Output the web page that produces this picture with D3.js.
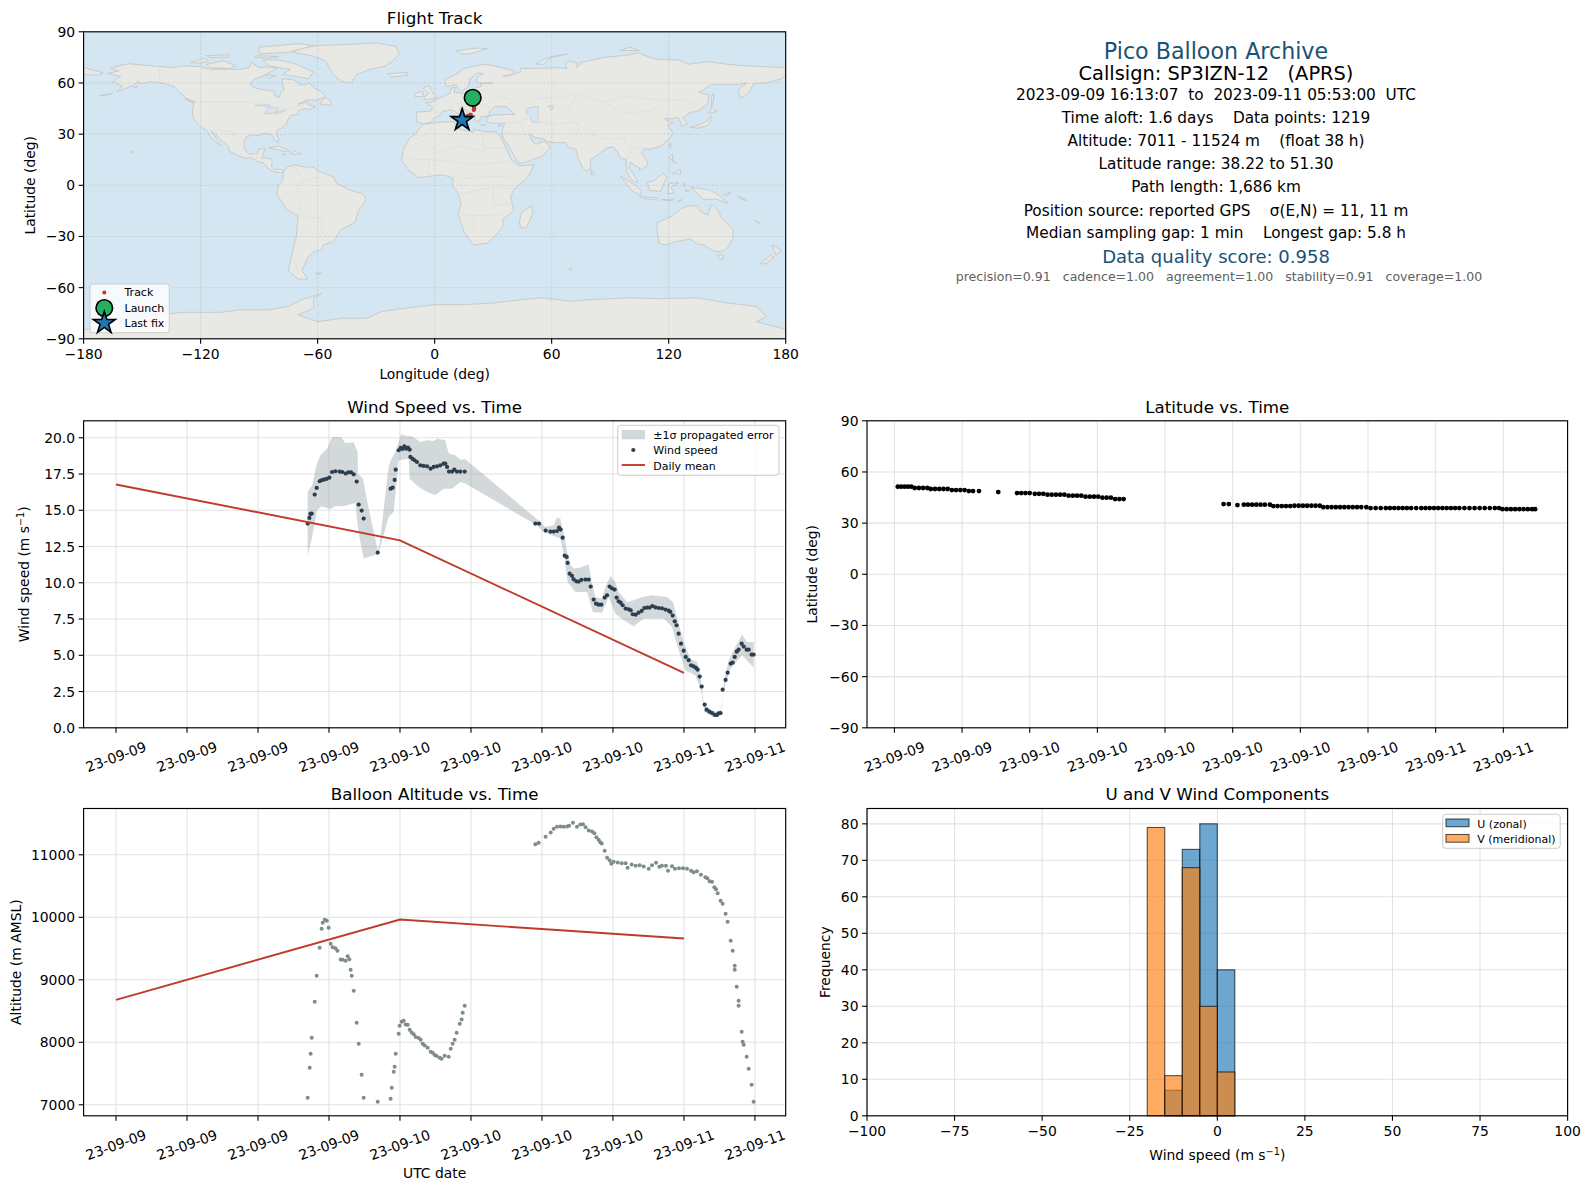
<!DOCTYPE html>
<html><head><meta charset="utf-8">
<script src="https://cdn.jsdelivr.net/npm/d3@7/dist/d3.min.js"></script>
<style>html,body{margin:0;padding:0;background:#fff}svg{display:block}text{font-family:"DejaVu Sans",sans-serif;fill:#000}</style>
</head><body><svg id="c" width="1589" height="1189"></svg>
<script>
// ---------- data (hours are counted from 2023-09-09 00:00 UTC) ----------
const timeTickHours=[0,6,12,18,24,30,36,42,48,54];
const timeTickLabels=["23-09-09","23-09-09","23-09-09","23-09-09","23-09-10","23-09-10","23-09-10","23-09-10","23-09-11","23-09-11"];
const latTickHours=[16,20,24,28,32,36,40,44,48,52];
const latTickLabels=["23-09-09","23-09-09","23-09-10","23-09-10","23-09-10","23-09-10","23-09-10","23-09-10","23-09-11","23-09-11"];
const dailyHours=[0,24,48];
const dailyWind=[16.78,12.93,3.78];
const dailyAlt=[8680,9965,9660];
const windObs=[[16.20,14.08],[16.34,14.47],[16.43,14.75],[16.54,14.77],[16.79,16.08],[16.96,16.54],[17.21,17.00],[17.35,17.07],[17.55,17.11],[17.78,17.16],[18.03,17.25],[18.26,17.64],[18.54,17.69],[18.90,17.67],[19.13,17.64],[19.41,17.53],[19.64,17.62],[19.86,17.62],[20.09,17.48],[20.34,16.98],[20.51,15.39],[20.76,14.98],[20.93,14.43],[22.12,12.08],[23.21,16.49],[23.38,16.56],[23.55,17.09],[23.64,17.80],[23.89,19.14],[24.06,19.30],[24.23,19.23],[24.37,19.41],[24.54,19.25],[24.68,19.32],[24.82,19.18],[24.88,18.68],[25.07,18.54],[25.24,18.45],[25.44,18.33],[25.72,18.10],[26.00,18.06],[26.29,18.03],[26.59,17.87],[26.85,17.99],[27.13,18.03],[27.41,18.10],[27.69,18.22],[27.83,18.22],[27.98,17.99],[28.14,17.67],[28.40,17.67],[28.59,17.80],[28.82,17.67],[29.10,17.67],[29.47,17.67],
[35.44,14.08],[35.75,14.08],[36.31,13.60],[36.71,13.53],[36.99,13.53],[37.27,13.57],[37.44,13.80],[37.58,13.67],[37.75,13.11],[37.92,11.87],[38.09,11.78],[38.17,11.37],[38.34,10.63],[38.54,10.47],[38.68,10.24],[38.91,10.10],[39.10,10.08],[39.33,10.20],[39.67,10.22],[39.95,10.22],[40.12,9.74],[40.37,8.84],[40.57,8.56],[40.79,8.49],[41.02,8.49],[41.30,8.98],[41.50,9.14],[41.72,9.74],[41.92,9.62],[42.14,9.53],[42.31,8.98],[42.48,8.72],[42.65,8.63],[42.82,8.45],[43.07,8.22],[43.33,8.17],[43.50,8.10],[43.67,7.83],[43.92,7.80],[44.17,7.94],[44.43,8.06],[44.65,8.26],[44.88,8.29],[45.10,8.29],[45.33,8.40],[45.58,8.31],[45.86,8.26],[46.14,8.24],[46.43,8.15],[46.71,8.08],[46.85,7.99],[47.05,7.74],[47.22,7.34],[47.38,7.07],[47.55,6.49],[47.75,5.80],[47.98,5.32],[48.15,4.89],[48.40,4.66],[48.60,4.31],[48.82,4.24],[49.02,4.13],[49.16,4.01],[49.33,3.53],[49.50,2.84],[49.75,1.60],[49.92,1.25],[50.15,1.11],[50.37,1.02],[50.60,0.89],[50.79,0.89],[50.93,1.00],[51.10,1.02],[51.27,2.63],[51.52,3.30],[51.69,3.80],[51.95,4.43],[52.12,4.49],[52.29,4.89],[52.46,5.25],[52.62,5.39],[52.88,5.80],[53.05,5.60],[53.30,5.39],[53.47,5.39],[53.72,5.05],[53.89,5.05]];
const windUpper=[[16.20,16.31],[16.59,16.72],[16.93,18.10],[17.27,18.79],[17.83,19.25],[18.26,20.06],[19.04,20.06],[19.38,19.64],[20.09,19.67],[20.43,19.02],[20.43,17.53],[20.88,17.18],[21.21,15.69],[22.12,12.24],[22.28,12.70],[23.04,17.99],[23.24,18.49],[23.61,19.02],[24.09,20.24],[24.59,20.10],[25.02,20.10],[25.72,19.71],[26.29,19.83],[26.85,19.78],[27.13,19.94],[27.83,19.83],[28.12,18.91],[28.68,18.79],[29.10,18.49],[29.52,18.52],[35.86,14.20],[36.28,13.85],[36.99,13.97],[37.27,14.49],[37.55,14.43],[37.83,13.39],[38.34,11.32],[38.68,10.98],[39.24,11.05],[39.95,11.28],[40.17,10.17],[40.51,9.02],[41.07,8.91],[41.36,9.71],[41.78,10.47],[42.20,10.06],[42.48,9.37],[43.19,8.68],[43.75,8.79],[44.45,9.02],[45.30,9.14],[46.57,9.02],[47.07,8.68],[47.55,7.18],[48.12,5.57],[48.54,4.77],[49.10,4.54],[49.38,3.74],[49.67,1.67],[50.23,1.25],[50.79,1.09],[51.21,1.32],[51.36,3.05],[51.78,4.66],[52.34,5.57],[52.91,6.43],[53.33,5.92],[53.89,5.92]];
const windLower=[[16.20,11.85],[16.57,13.16],[16.99,15.00],[17.41,15.28],[18.12,15.07],[18.54,15.28],[19.24,15.28],[20.23,15.51],[20.51,13.39],[20.93,11.67],[22.12,11.97],[22.34,12.47],[23.04,14.54],[23.47,14.89],[23.75,17.30],[23.89,18.45],[24.74,18.56],[24.82,17.18],[25.58,16.61],[26.29,16.26],[26.99,16.03],[27.69,16.49],[28.40,16.49],[29.10,16.95],[29.52,16.84],[35.58,13.97],[36.14,13.51],[37.55,13.05],[37.89,11.78],[38.17,10.06],[38.82,9.37],[39.81,9.37],[40.31,7.99],[41.07,7.94],[41.64,9.02],[42.20,7.87],[42.91,7.41],[43.75,7.00],[44.60,7.53],[46.29,7.53],[46.99,6.95],[47.55,5.34],[48.12,3.97],[48.96,3.62],[49.44,2.59],[49.72,1.09],[50.51,0.75],[51.07,0.86],[51.36,2.59],[51.92,4.08],[52.91,5.00],[53.89,4.15]];
const altObs=[[16.20,7112],[16.37,7592],[16.45,7816],[16.54,8072],[16.79,8648],[16.96,9064],[17.21,9512],[17.38,9816],[17.47,9912],[17.64,9960],[17.81,9944],[17.97,9832],[18.14,9576],[18.31,9522],[18.54,9506],[18.71,9464],[18.99,9325],[19.16,9320],[19.41,9304],[19.58,9378],[19.72,9330],[19.83,9160],[19.92,9064],[20.09,8824],[20.34,8312],[20.51,7976],[20.76,7480],[20.93,7112],[22.12,7048],[23.21,7096],[23.30,7272],[23.47,7528],[23.55,7608],[23.64,7816],[23.89,8136],[23.97,8264],[24.14,8328],[24.31,8344],[24.48,8285],[24.65,8280],[24.82,8200],[24.99,8157],[25.16,8130],[25.33,8083],[25.58,8067],[25.75,8040],[25.92,7976],[26.09,7949],[26.34,7912],[26.59,7848],[26.76,7832],[26.93,7795],[27.10,7779],[27.36,7752],[27.52,7736],[27.78,7784],[28.12,7768],[28.29,7896],[28.45,7976],[28.62,8040],[28.79,8152],[29.05,8296],[29.21,8365],[29.30,8472],[29.47,8584],
[35.44,11170],[35.72,11192],[36.31,11288],[36.74,11357],[36.99,11416],[37.27,11448],[37.55,11453],[37.83,11448],[38.12,11453],[38.29,11464],[38.62,11512],[38.96,11448],[39.24,11485],[39.47,11490],[39.69,11442],[39.95,11389],[40.23,11373],[40.43,11346],[40.60,11282],[40.79,11240],[40.93,11202],[41.05,11181],[41.30,11064],[41.50,10952],[41.72,10914],[41.86,10856],[42.06,10888],[42.40,10877],[42.74,10866],[43.07,10866],[43.24,10792],[43.58,10845],[43.92,10824],[44.26,10834],[44.60,10813],[45.02,10776],[45.30,10834],[45.64,10872],[45.92,10808],[46.14,10824],[46.48,10824],[46.65,10744],[46.99,10818],[47.24,10776],[47.58,10786],[47.92,10786],[48.26,10776],[48.60,10744],[48.82,10722],[49.10,10738],[49.44,10680],[49.81,10642],[49.98,10626],[50.17,10578],[50.37,10568],[50.57,10482],[50.71,10450],[50.85,10386],[51.10,10264],[51.27,10216],[51.52,10056],[51.69,9928],[51.95,9624],[52.12,9464],[52.29,9224],[52.29,9160],[52.46,8888],[52.62,8664],[52.62,8584],[52.88,8168],[52.96,8008],[53.05,7960],[53.30,7768],[53.47,7576],[53.72,7320],[53.89,7048]];
const latObs=[[16.2,51.4],[16.4,51.4],[16.6,51.4],[16.8,51.4],[17.0,51.4],[17.2,50.6],[17.45,50.6],[17.7,50.6],[17.95,50.6],[18.15,50.0],[18.4,50.0],[18.65,50.0],[18.9,50.0],[19.15,50.0],[19.4,49.4],[19.65,49.4],[19.9,49.4],[20.15,49.4],[20.4,48.8],[20.65,48.8],[21.0,48.8],[22.14,48.2],
[23.25,47.6],[23.5,47.6],[23.75,47.6],[24.0,47.6],[24.3,47.2],[24.55,47.2],[24.8,47.2],[25.05,46.7],[25.3,46.7],[25.55,46.7],[25.8,46.7],[26.05,46.7],[26.3,46.1],[26.55,46.1],[26.8,46.1],[27.05,46.1],[27.3,45.5],[27.55,45.5],[27.8,45.5],[28.05,45.5],[28.3,44.9],[28.55,44.9],[28.8,44.9],[29.05,44.1],[29.3,44.1],[29.55,44.1],
[35.46,41.2],[35.77,41.2],[36.28,40.6],[36.66,40.8],[36.9,40.8],[37.15,40.8],[37.4,40.8],[37.65,40.8],[37.9,40.8],[38.2,40.8],[38.4,40.0],[38.65,40.0],[38.9,40.0],[39.15,40.0],[39.4,40.0],[39.65,40.2],[39.9,40.2],[40.15,40.2],[40.4,40.2],[40.65,40.2],[40.9,40.2],[41.15,40.2],[41.35,39.4],[41.6,39.4],[41.85,39.4],[42.1,39.4],[42.35,39.4],[42.6,39.4],[42.85,39.4],[43.1,39.4],[43.35,39.4],[43.6,39.4],[43.9,39.4],[44.15,38.8],[44.45,38.8],[44.75,38.8],[45.05,38.8],[45.3,38.8],[45.55,38.8],[45.8,38.8],[46.05,38.8],[46.3,38.8],[46.55,38.8],[46.85,38.8],[47.15,38.8],[47.4,38.8],[47.65,38.8],[47.9,38.8],[48.15,38.8],[48.4,38.8],[48.65,38.8],[48.9,38.8],[49.15,38.8],[49.4,38.8],[49.7,38.8],[50.0,38.8],[50.3,38.8],[50.6,38.8],[50.9,38.8],[51.2,38.8],[51.5,38.8],[51.75,38.8],[51.95,38.2],[52.2,38.2],[52.45,38.2],[52.7,38.2],[52.95,38.2],[53.2,38.2],[53.45,38.2],[53.7,38.2],[53.88,38.2]];
const histEdges=[-20,-15,-10,-5,0,5];
const histU=[0,7,73,80,40];
const histV=[79,11,68,30,12];
const trackLonLat=[[19.9,51.3],[20,50],[20.1,49],[20.1,48],[20.2,47],[20.2,46],[20.2,45],[20.1,44.3],[18.5,41.2],[17.5,40.8],[17,40.5],[16,40],[15,39.2],[14.2,38.3]];
const launchLonLat=[19.5,51.3];
const lastFixLonLat=[14.1,38.2];
const infoLines=["Pico Balloon Archive","Callsign: SP3IZN-12   (APRS)","2023-09-09 16:13:07  to  2023-09-11 05:53:00  UTC","Time aloft: 1.6 days    Data points: 1219","Altitude: 7011 - 11524 m    (float 38 h)","Latitude range: 38.22 to 51.30","Path length: 1,686 km","Position source: reported GPS    σ(E,N) = 11, 11 m","Median sampling gap: 1 min    Longest gap: 5.8 h","Data quality score: 0.958","precision=0.91   cadence=1.00   agreement=1.00   stability=0.91   coverage=1.00"];
// ---------- coarse world outlines (lon,lat) ----------
const land=[
[[-168,65.5],[-164,66.5],[-162,67],[-166,68.5],[-161,70.3],[-156.5,71.3],[-150,70.5],[-141,69.7],[-135,69],[-128,70],[-120,69.5],[-115,68],[-108,68],[-100,68],[-95,69],[-94,72],[-90,69],[-85,69.5],[-81,68.5],[-85,66],[-87,64.5],[-93,62],[-94.5,59],[-92,57],[-85,55.5],[-82,55],[-82,52.5],[-79.5,51.5],[-79,54.5],[-77,56],[-78,59],[-78,62.5],[-73,62],[-70,60.5],[-69.5,59],[-66,58.8],[-64.5,60.3],[-61.5,57],[-57,54],[-56,52],[-60,50],[-66,50],[-70,47.5],[-65,49],[-64.5,47],[-61,46],[-64,44.5],[-67,45],[-70,43.5],[-70,41.7],[-74,40.7],[-75.5,38],[-76,35.5],[-78,34],[-81,32],[-81,30],[-80,27],[-80.5,25.2],[-82,26.5],[-82.8,28.5],[-84,30],[-86,30.4],[-89,30.2],[-90,29.2],[-94,29.5],[-97,28],[-97.5,25],[-97.8,22],[-96,19],[-94,18.2],[-91,18.7],[-90.5,21],[-87,21.5],[-88,18],[-88.8,16],[-84,15.8],[-83.3,14],[-83.7,11],[-82,9],[-79.7,9.5],[-77.3,8.6],[-78.2,7.5],[-80.5,7.5],[-83,8.3],[-85.7,10],[-87.5,13],[-91,14],[-94,16.2],[-97,15.8],[-101,17.5],[-105.5,20],[-105.5,22.5],[-109,26],[-112.5,30],[-114.7,31.5],[-112,27.5],[-109.8,23],[-112,25],[-115,28.5],[-117,32.5],[-120.5,34.5],[-122.5,37.5],[-124.3,40.5],[-124,46],[-123,49],[-127.5,51],[-130.5,54.5],[-134,58],[-139,59.8],[-146,60.8],[-151,59.5],[-152,61],[-154,59],[-158,57],[-163,54.8],[-160,58],[-165,60.5],[-161,64],[-168,65.5]],
[[-73,78],[-68,80.5],[-60,82],[-45,82.5],[-30,83.5],[-20,81.5],[-18,77],[-22,72.5],[-25,70],[-33,68],[-40,65],[-43,60],[-48,61],[-52,65],[-54,69],[-56,73],[-63,76],[-73,78]],
[[-80,73.5],[-72,71.5],[-67,69],[-62,66.5],[-65,62.5],[-72,64],[-78,65],[-74,68],[-85,70],[-88,73.5],[-80,73.5]],
[[-117,71],[-108,73],[-102,70],[-105,68.5],[-115,69],[-117,71]],[[-125,72],[-118,74.5],[-116,73],[-120,71.5],[-125,72]],[[-90,77],[-75,78],[-62,82],[-70,83],[-90,81],[-90,77]],[[-92,76],[-80,75.5],[-85,74.5],[-92,75]],[[-87,65],[-81,64],[-85,63]],[[-117,76],[-105,76.5],[-106,75],[-115,75]],[[-59,47.7],[-53,46.7],[-53,49],[-56,51.5],[-59,47.7]],[[-128,50.8],[-123.5,48.5],[-125,48.7]],[[-85,22],[-80,23],[-74.2,20],[-78,20],[-85,22]],[[-74,18.5],[-72,20],[-68.5,18.5],[-71,18]],[[-78.3,18.3],[-76.3,18.1],[-77.5,17.8]],
[[-77.3,8.6],[-75,11],[-72,12],[-68,11],[-62,10.5],[-60,8.5],[-52,5],[-50,1],[-44,-2.5],[-37,-5],[-35,-8],[-39,-15],[-41,-22],[-48,-26],[-52,-33],[-57,-35],[-58,-38],[-62,-39],[-65,-42],[-68,-50],[-65,-55],[-70,-55],[-75,-50],[-73,-40],[-71,-30],[-70,-18],[-76,-14],[-81,-5],[-80,0],[-78,3],[-77.3,8.6]],
[[-6,35.8],[3,37],[10,37.3],[11,33.5],[20,31],[20,32.8],[25,31.7],[32,31],[34,28],[37,21],[39,15.5],[43,11.5],[51,12],[48,5],[41,-2],[39,-6],[40.5,-15],[35,-20],[35,-24],[32.5,-28],[27,-34],[20,-35],[18,-32],[15,-27],[12,-17],[13.5,-11],[12,-5],[9,0],[9.5,4],[5,6],[1,6],[-4,5],[-8,4.5],[-13,8.5],[-17,14.5],[-16,21],[-13,27.5],[-10,30],[-6,35.8]],
[[49.5,-12],[50.5,-16],[47,-25],[44,-25],[43.5,-21],[44.5,-16],[49.5,-12]],
[[-9,37],[-9.5,39],[-9,43],[-2,43.4],[-1,46],[-4.5,48.3],[-1.5,48.7],[2,51],[4,52],[8,54],[8.5,57],[10.5,57.5],[10,54.5],[14,54],[19,54.5],[21,57],[24,58],[23.5,59.5],[30,60],[23,60],[21.5,61],[21.5,63],[25,65.5],[22,65.8],[17.5,62],[18,60],[16.5,57],[14,55.5],[12.5,56],[11,59],[6,58],[5,62],[11,65],[15,68.5],[21,70],[26,71],[31,70],[41,67],[40,65],[35,64],[37,64],[44,66.5],[44,68.5],[54,68.5],[61,69],[68,68.5],[67,71],[68,73],[73,72],[73,69],[75,72],[81,73.5],[87,75],[100,76.5],[104,77.7],[113,74],[125,73.5],[130,71],[140,72.5],[150,71],[160,70],[170,69.5],[180,69],[180,65],[178,62.5],[170,60],[163.5,59.5],[162,56],[160,53],[156.7,51],[155.7,56],[160,60],[155,59],[142,59],[135.5,54.5],[140.5,53],[140,48],[135,43.5],[130.5,42.5],[127.5,39.5],[129.5,36],[126.5,34.5],[126,37],[125,39.7],[121.5,39],[118,39],[120.5,37],[122.5,37],[119.5,35],[122,31],[121,28],[116,23],[110,21],[108,21.5],[106,19],[109,14],[109,11.5],[105,8.7],[105,10],[100.5,13.5],[99.5,10],[103.5,4],[104,1.5],[101,3],[98.5,8],[98,15],[95,16],[94,19],[91.5,22.5],[88,21.8],[86,20],[82,16.5],[80,15],[80,11],[78,8],[76,10],[73.5,16],[72.7,21],[69,22],[67,25],[61,25],[57,25.8],[56.5,27],[51.5,28],[48.5,30],[50,26],[52,24],[56,26],[59.5,22.5],[55,17],[45,13],[43,13],[39,21],[35,28],[34.5,31.5],[36,36.5],[30,36.3],[27,37],[26.5,39.5],[29,41],[36,41.5],[41.5,41.5],[38,44.5],[37,46],[34,46],[31,46.5],[28,43],[28.5,41],[26,40.5],[23.5,40],[23,37],[21,38],[19.5,41.5],[14,45.5],[12.5,44.5],[16,41.5],[18.5,40],[16,38],[12,42],[9,44.3],[4,43.3],[3,41.5],[0,39.5],[-2,37],[-5.5,36],[-9,37]],
[[-180,69],[-170,66],[-173,64.5],[-180,65]],
[[-5.5,50],[1,51.3],[-2,56],[-3,58.5],[-6,57],[-3,54],[-5,52],[-5.5,50]],[[-10,52],[-6,52],[-6,55],[-10,54]],[[-24,65.5],[-14,66],[-14,64.5],[-22,63.5]],[[9,41],[9.5,39],[8.3,39]],[[12.5,38],[15.5,38],[15,36.7]],[[11,79],[22,80.5],[27,80],[18,77],[14,77]],[[52,71],[56,74],[68,77],[60,75.5],[56,71]],[[95,79],[105,79],[100,81]],[[80,9.7],[82,7],[80.5,6]],[[130.8,34],[136,35.5],[140,38],[141.5,41],[142,39],[140,35],[135,33.5]],[[140,42],[145,43.5],[142,45.5],[141,43]],[[142,46],[143,50],[143,54],[142,52]],[[120,23],[121,25],[121,22]],[[120,16],[122,18.5],[122,14],[124,13]],[[122,7],[126,9.5],[126,6.5]],[[109,1.5],[113,3],[117,7],[119,5],[117.5,1],[116,-3.5],[110,-3],[109,1.5]],[[95,5.5],[103,0],[106,-3],[105.5,-6],[101,-3],[95,5.5]],[[105,-6.5],[114.5,-7.5],[114,-8.7],[106,-7.5]],[[119.5,-5],[120,1],[125,1.5],[121,-1],[123,-4.5]],[[131,-1],[137,-2],[141,-2.7],[146,-6],[150.5,-10.5],[144,-8],[138,-8.5],[134,-4],[131,-1]],
[[114,-22],[122,-18],[126,-14],[130,-12],[135,-12],[136,-15],[140,-17.5],[142,-11],[145.5,-15],[147,-19],[153,-26],[153,-31],[150,-37],[146.5,-39],[143,-38.5],[138,-35],[135,-34.5],[131,-31.5],[124,-33],[118,-35],[115,-34],[114,-26],[114,-22]],
[[145,-41],[148,-41],[147.5,-43.5],[146,-43.5]],[[173,-35],[178,-38],[175,-41],[174,-38]],[[172,-41],[174,-42],[170,-46],[167,-46]],
[[-61,-51.5],[-58,-51.5],[-59,-52.3]],[[124,-9.5],[127,-8.4],[125,-9.8]],[[116,-8.4],[120,-8.3],[123,-8.4],[120,-9]],[[127.5,1.5],[128.5,0],[128,-0.8]],[[128,-3],[130.5,-3.2],[129,-3.5]],[[148,-5.5],[152,-4.2],[150,-6.2]],[[155,-6],[160,-9],[157,-8]],[[164,-20.3],[167,-22.3],[165.5,-21.8]],[[-156,20],[-155,19.5],[-155.8,19]],[[-172,52.5],[-165,54],[-168,53]],[[-154,57.5],[-152.5,58],[-153,57]],[[32.5,35],[34.5,35.6],[33,34.7]],[[23.5,35.5],[26,35.2],[24.5,35]],[[69,-49],[70.5,-49],[69.5,-49.8]],
[[-180,-84.5],[-165,-84],[-158,-78],[-148,-77],[-130,-74.5],[-110,-74.5],[-100,-73],[-85,-73],[-75,-71],[-68,-67],[-58,-63.5],[-62,-66],[-62,-72],[-70,-76],[-60,-80],[-48,-78],[-35,-78],[-27,-74],[-15,-72],[0,-70],[15,-70],[30,-69],[45,-67],[55,-66],[70,-68],[80,-67],[100,-66],[115,-66.5],[135,-66],[150,-69],[165,-71],[170,-77],[165,-80],[180,-84.5],[180,-90],[-180,-90]]
];
const lakes=[[[47,45],[53,46.5],[53,40],[54,37],[50,37],[49,40.5],[47,43]],[[-92,47],[-85,47.5],[-84.5,46],[-88,46.5]],[[-87.5,42],[-85,46],[-80,45],[-82,42.5],[-79,43.5],[-76.5,44],[-79,42.5]],[[58,46.5],[61,46.5],[60,44]]];
const borders=[[[-123,49],[-95,49],[-83,46],[-75,45],[-67,47]],[[-117,32.5],[-106,31.7],[-97,26]],[[-141,69.7],[-141,60]],[[-92,14.5],[-91,18]],
[[-70,-18],[-58,-20],[-58,-27],[-54,-33]],[[-70,-18],[-69,-11],[-74,-7],[-70,-4],[-70,1],[-60,5]],[[-73,-40],[-70,-52]],[[-72,12],[-67,1],[-70,-4]],
[[-9,27],[-2,32],[-2,35]],[[-9,27],[-5,25],[3,19],[12,23],[25,20],[25,31.7]],[[25,22],[37,22]],[[-16,16],[-5,15],[3,15],[15,13],[24,12],[36,14],[43,11.5]],[[9,4],[15,13]],[[12,-5],[18,-4],[30,-1],[41,-2]],[[12,-17],[24,-18],[35,-17]],[[20,-28],[20,-18]],[[30,-1],[30,-12],[40,-11]],[[15,4],[27,5],[35,5],[41,4]],[[-3,5],[-3,15]],
[[-2,43.4],[3,42.5]],[[8,48],[6,51]],[[14,54],[15,51],[13,48],[9,47.5],[7,44]],[[24,54],[22,48],[29,45.5]],[[28,56],[32,52],[40,50],[38,47]],[[48,42],[46,39],[44,37],[46,30]],[[44,37],[36,36.5]],[[35,31],[46,30],[48.5,30]],[[46,39],[61,36],[61,25]],[[50,51],[61,51],[73,54],[87,49],[98,52],[116,50],[127,50],[135,48],[131,43]],[[73,54],[68,41],[73,37],[61,36]],[[73,37],[80,30],[88,27],[97,28],[98,24],[102,22],[108,21.5]],[[68,25],[74,33],[73,37]],[[87,49],[96,42],[112,44],[116,50]],[[97,28],[92,22]],[[102,22],[98,15]],[[100,20],[105,14]]
];
// ---------- helpers ----------
const svg=d3.select("#c");
const xL=[83.6,785.7],xR=[867,1567.6];
const rows=[[31.8,338.8],[420.8,727.8],[808.5,1115.8]];
const TICK=13.9,GRID="#e2e2e2";
function text(g,x,y,s,o={}){const t=g.append("text").attr("x",x).attr("y",y).text(s).style("font-size",(o.size||TICK)+"px");
 if(o.anchor)t.attr("text-anchor",o.anchor);if(o.color)t.style("fill",o.color);if(o.rot!=null)t.attr("transform",`rotate(${o.rot},${x},${y})`);return t;}
function frame(g,x,y){g.append("rect").attr("x",x.range()[0]).attr("y",y.range()[1]).attr("width",x.range()[1]-x.range()[0]).attr("height",y.range()[0]-y.range()[1]).attr("fill","none").attr("stroke","#000").attr("stroke-width",1.15);}
function gridlines(g,x,y,xt,yt,o={}){const c=o.color||GRID,w=o.width||1.1;
 xt.forEach(v=>g.append("line").attr("x1",x(v)).attr("x2",x(v)).attr("y1",y.range()[0]).attr("y2",y.range()[1]).attr("stroke",c).attr("stroke-width",w).attr("stroke-dasharray",o.dash||null));
 yt.forEach(v=>g.append("line").attr("y1",y(v)).attr("y2",y(v)).attr("x1",x.range()[0]).attr("x2",x.range()[1]).attr("stroke",c).attr("stroke-width",w).attr("stroke-dasharray",o.dash||null));}
function yAxis(g,y,vals,fmt,x0){vals.forEach(v=>{g.append("line").attr("x1",x0).attr("x2",x0-4.9).attr("y1",y(v)).attr("y2",y(v)).attr("stroke","#000").attr("stroke-width",1.1);
 text(g,x0-8.5,y(v)+5,fmt(v),{anchor:"end"});});}
function xAxisPlain(g,x,vals,fmt,y0){vals.forEach(v=>{g.append("line").attr("x1",x(v)).attr("x2",x(v)).attr("y1",y0).attr("y2",y0+4.9).attr("stroke","#000").attr("stroke-width",1.1);
 text(g,x(v),y0+20,fmt(v),{anchor:"middle"});});}
function xAxisDates(g,x,vals,labels,y0){vals.forEach((v,i)=>{g.append("line").attr("x1",x(v)).attr("x2",x(v)).attr("y1",y0).attr("y2",y0+4.9).attr("stroke","#000").attr("stroke-width",1.1);
 const cy=y0+29;text(g,x(v),cy+5,labels[i],{anchor:"middle"}).attr("transform",`rotate(-20,${x(v)},${cy})`);});}
const minus=v=>(v<0?"\u2212":"")+Math.abs(v);
function title(g,x,top,s){text(g,(x[0]+x[1])/2,top-8.3,s,{anchor:"middle",size:16.7});}
function legendBox(g,x,y,w,h){g.append("rect").attr("x",x).attr("y",y).attr("width",w).attr("height",h).attr("rx",3).attr("fill","#fff").attr("fill-opacity",.8).attr("stroke","#ccc").attr("stroke-width",1);}
function unitLabel(g,x,y,rot){const t=text(g,x,y,"",{anchor:"middle",rot});t.append("tspan").text("Wind speed (m s");t.append("tspan").attr("dy",-5).style("font-size","9.7px").text("\u22121");t.append("tspan").attr("dy",5).text(")");}
// ---------- map ----------
{const g=svg.append("g");const x=d3.scaleLinear([-180,180],xL),y=d3.scaleLinear([-90,90],[rows[0][1],rows[0][0]]);
 svg.append("clipPath").attr("id","mapclip").append("rect").attr("x",xL[0]).attr("y",rows[0][0]).attr("width",xL[1]-xL[0]).attr("height",rows[0][1]-rows[0][0]);
 g.append("rect").attr("x",xL[0]).attr("y",rows[0][0]).attr("width",xL[1]-xL[0]).attr("height",rows[0][1]-rows[0][0]).attr("fill","#d4e6f1");
 const m=g.append("g").attr("clip-path","url(#mapclip)");const line=d3.line().x(d=>x(d[0])).y(d=>y(d[1])).curve(d3.curveLinear);
 m.selectAll(".land").data(land).join("path").attr("d",d=>line(d)+"Z").attr("fill","#e8e8e4").attr("stroke","#c4c8c8").attr("stroke-width",.9);
 m.selectAll(".lake").data(lakes).join("path").attr("d",d=>line(d)+"Z").attr("fill","#d4e6f1").attr("stroke","#c4c8c8").attr("stroke-width",.7);
 m.selectAll(".border").data(borders).join("path").attr("d",line).attr("fill","none").attr("stroke","#dededa").attr("stroke-width",.8);
 const xt=d3.range(-180,181,60),yt=d3.range(-90,91,30);
 gridlines(m,x,y,xt.slice(1,-1),yt.slice(1,-1),{color:"rgba(130,130,130,.22)",width:.8,dash:"2.5,1.5"});
 m.selectAll(".trk").data(trackLonLat).join("circle").attr("cx",d=>x(d[0])).attr("cy",d=>y(d[1])).attr("r",2.2).attr("fill","#c0392b");
 g.append("circle").attr("cx",x(launchLonLat[0])).attr("cy",y(launchLonLat[1])).attr("r",8.3).attr("fill","#27ae60").attr("stroke","#000").attr("stroke-width",1.6);
 g.append("path").attr("d",d3.symbol(d3.symbolStar,150)()).attr("transform",`translate(${x(lastFixLonLat[0])},${y(lastFixLonLat[1])})`).attr("fill","#1f77b4").attr("stroke","#000").attr("stroke-width",1.6);
 frame(g,x,y);yAxis(g,y,yt,minus,xL[0]);xAxisPlain(g,x,xt,minus,rows[0][1]);
 title(g,xL,rows[0][0],"Flight Track");
 text(g,(xL[0]+xL[1])/2,379,"Longitude (deg)",{anchor:"middle"});text(g,35,(rows[0][0]+rows[0][1])/2,"Latitude (deg)",{anchor:"middle",rot:-90});
 legendBox(g,90,284,79.3,48.7);
 g.append("circle").attr("cx",104.3).attr("cy",292.5).attr("r",2).attr("fill","#c0392b");
 g.append("circle").attr("cx",104.3).attr("cy",308).attr("r",8.3).attr("fill","#27ae60").attr("stroke","#000").attr("stroke-width",1.6);
 g.append("path").attr("d",d3.symbol(d3.symbolStar,150)()).attr("transform","translate(104.3,323)").attr("fill","#1f77b4").attr("stroke","#000").attr("stroke-width",1.6);
 [["Track",292],["Launch",308],["Last fix",323]].forEach(d=>text(g,124.5,d[1]+4,d[0],{size:11}));
}
// ---------- info text ----------
{const g=svg.append("g");const cx=[1216,1216,1216,1216,1216,1216,1216,1216,1216,1216,1219];const ys=[58.5,79.5,100,122.5,145.9,168.8,191.8,215.8,237.8,263.2,281.2];const sz=[22.2,19.4,15.3,15.3,15.3,15.3,15.3,15.3,15.3,18,12.55];
 const col=["#1a5276","#000","#000","#000","#000","#000","#000","#000","#000","#1a5276","#606060"];
 infoLines.forEach((s,i)=>text(g,cx[i],ys[i],s,{anchor:"middle",size:sz[i],color:col[i]}).style("white-space","pre"));}
// ---------- wind ----------
{const g=svg.append("g");const x=d3.scaleLinear([-2.74,56.6],xL),y=d3.scaleLinear([0,21.17],[rows[1][1],rows[1][0]]);
 const yt=[0,2.5,5,7.5,10,12.5,15,17.5,20];gridlines(g,x,y,timeTickHours,yt);
 const poly=windUpper.concat(windLower.slice().reverse());
 g.append("path").attr("d",d3.line().x(d=>x(d[0])).y(d=>y(d[1]))(poly)+"Z").attr("fill","#95a5a6").attr("fill-opacity",.42);
 g.selectAll(".d").data(windObs).join("circle").attr("cx",d=>x(d[0])).attr("cy",d=>y(d[1])).attr("r",2.1).attr("fill","#2c3e50");
 g.append("path").attr("d",d3.line().x(d=>x(d)).y((d,i)=>y(dailyWind[i]))(dailyHours)).attr("fill","none").attr("stroke","#c0392b").attr("stroke-width",1.9);
 frame(g,x,y);yAxis(g,y,yt,v=>v.toFixed(1),xL[0]);xAxisDates(g,x,timeTickHours,timeTickLabels,rows[1][1]);
 title(g,xL,rows[1][0],"Wind Speed vs. Time");unitLabel(g,29,(rows[1][0]+rows[1][1])/2,-90);
 legendBox(g,617.7,425.3,161.3,50);
 g.append("rect").attr("x",621.7).attr("y",430).attr("width",23.3).attr("height",9.3).attr("fill","#95a5a6").attr("fill-opacity",.42);
 g.append("circle").attr("cx",633.3).attr("cy",450).attr("r",2.1).attr("fill","#2c3e50");
 g.append("line").attr("x1",621.7).attr("x2",645).attr("y1",465).attr("y2",465).attr("stroke","#c0392b").attr("stroke-width",1.9);
 [["±1σ propagated error",435],["Wind speed",450],["Daily mean",466]].forEach(d=>text(g,653.3,d[1]+4,d[0],{size:11}));
}
// ---------- latitude ----------
{const g=svg.append("g");const x=d3.scaleLinear([14.38,55.8],xR),y=d3.scaleLinear([-90,90],[rows[1][1],rows[1][0]]);
 const yt=d3.range(-90,91,30);gridlines(g,x,y,latTickHours,yt);
 g.selectAll(".d").data(latObs).join("circle").attr("cx",d=>x(d[0])).attr("cy",d=>y(d[1])).attr("r",2.4).attr("fill","#000");
 frame(g,x,y);yAxis(g,y,yt,minus,xR[0]);xAxisDates(g,x,latTickHours,latTickLabels,rows[1][1]);
 title(g,xR,rows[1][0],"Latitude vs. Time");text(g,817,(rows[1][0]+rows[1][1])/2,"Latitude (deg)",{anchor:"middle",rot:-90});
}
// ---------- altitude ----------
{const g=svg.append("g");const x=d3.scaleLinear([-2.74,56.6],xL),y=d3.scaleLinear([6824,11741],[rows[2][1],rows[2][0]]);
 const yt=[7000,8000,9000,10000,11000];gridlines(g,x,y,timeTickHours,yt);
 g.selectAll(".d").data(altObs).join("circle").attr("cx",d=>x(d[0])).attr("cy",d=>y(d[1])).attr("r",2).attr("fill","#7f8c8d");
 g.append("path").attr("d",d3.line().x(d=>x(d)).y((d,i)=>y(dailyAlt[i]))(dailyHours)).attr("fill","none").attr("stroke","#c0392b").attr("stroke-width",1.9);
 frame(g,x,y);yAxis(g,y,yt,String,xL[0]);xAxisDates(g,x,timeTickHours,timeTickLabels,rows[2][1]);
 title(g,xL,rows[2][0],"Balloon Altitude vs. Time");text(g,21,(rows[2][0]+rows[2][1])/2,"Altitude (m AMSL)",{anchor:"middle",rot:-90});
 text(g,(xL[0]+xL[1])/2,1178,"UTC date",{anchor:"middle"});
}
// ---------- histogram ----------
{const g=svg.append("g");const x=d3.scaleLinear([-100,100],xR),y=d3.scaleLinear([0,84.2],[rows[2][1],rows[2][0]]);
 const xt=d3.range(-100,101,25),yt=d3.range(0,81,10);gridlines(g,x,y,xt,yt);
 const bars=(vals,c)=>vals.forEach((v,i)=>{if(!v)return;g.append("rect").attr("x",x(histEdges[i])).attr("width",x(histEdges[i+1])-x(histEdges[i])).attr("y",y(v)).attr("height",y(0)-y(v)).attr("fill",c).attr("stroke","#000").attr("stroke-width",1.1).attr("fill-opacity",.65).attr("stroke-opacity",.65);});
 bars(histU,"#1f77b4");bars(histV,"#ff7f0e");
 frame(g,x,y);yAxis(g,y,yt,String,xR[0]);xAxisPlain(g,x,xt,minus,rows[2][1]);
 title(g,xR,rows[2][0],"U and V Wind Components");text(g,830,(rows[2][0]+rows[2][1])/2,"Frequency",{anchor:"middle",rot:-90});
 unitLabel(g,(xR[0]+xR[1])/2,1160,0);
 legendBox(g,1442.7,814.3,117.5,34);
 g.append("rect").attr("x",1446).attr("y",819).attr("width",23).attr("height",7.7).attr("fill","#1f77b4").attr("fill-opacity",.65).attr("stroke","#000").attr("stroke-opacity",.65).attr("stroke-width",1.1);
 g.append("rect").attr("x",1446).attr("y",834.5).attr("width",23).attr("height",7.7).attr("fill","#ff7f0e").attr("fill-opacity",.65).attr("stroke","#000").attr("stroke-opacity",.65).attr("stroke-width",1.1);
 [["U (zonal)",824],["V (meridional)",839]].forEach(d=>text(g,1477.3,d[1]+4,d[0],{size:11}));
}
</script></body></html>
